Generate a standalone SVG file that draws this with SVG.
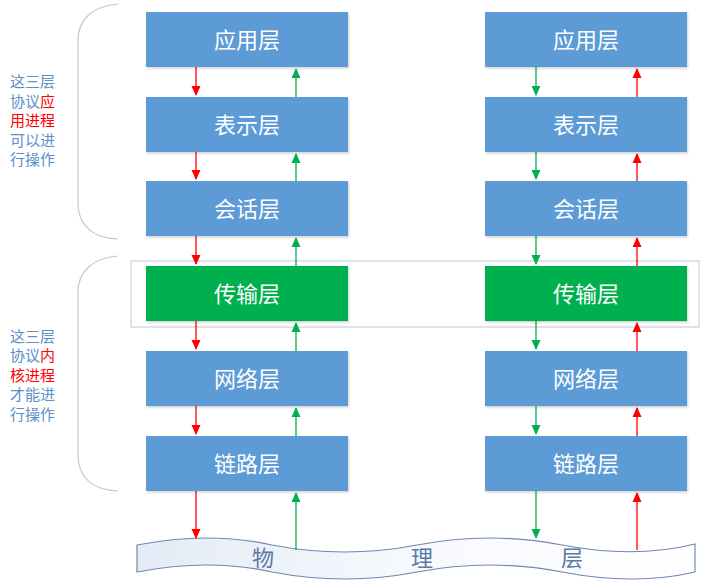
<svg xmlns="http://www.w3.org/2000/svg" width="709" height="585" viewBox="0 0 709 585">
<style>
text{font-family:"Noto Sans CJK SC","Liberation Sans",sans-serif}
.box{fill:#5b9bd5}
.gbox{fill:#00b050}
.bt{fill:#ffffff;font-size:22px;text-anchor:middle}
.side{font-size:15px;fill:#5b8fc8}
.side .r{fill:#ff0000}
.brace{fill:none;stroke:#c3c7ce;stroke-width:1.2}
.red{stroke:#ff0000;stroke-width:1.3;fill:none}
.grn{stroke:#00b050;stroke-width:1.3;fill:none}
.phy{font-size:22px;fill:#5a7aa6;text-anchor:middle}
</style>
<defs>
<marker id="ar" markerWidth="10" markerHeight="10" refX="9" refY="5" orient="auto" markerUnits="userSpaceOnUse"><path d="M0,0.5 L10,5 L0,9.5 Z" fill="#ff0000"/></marker>
<marker id="ag" markerWidth="10" markerHeight="10" refX="9" refY="5" orient="auto" markerUnits="userSpaceOnUse"><path d="M0,0.5 L10,5 L0,9.5 Z" fill="#00b050"/></marker>
<linearGradient id="wg" x1="0" y1="0" x2="1" y2="0"><stop offset="0" stop-color="#e4ebf6"/><stop offset="0.5" stop-color="#f7f9fd"/><stop offset="1" stop-color="#ffffff"/></linearGradient>
<filter id="sh" x="-5%" y="-10%" width="110%" height="130%"><feDropShadow dx="1" dy="1.5" stdDeviation="1" flood-color="#000" flood-opacity="0.18"/></filter>
</defs>

<g id="braces">
<path class="brace" d="M118,4 C92,6 78,20 78,40 L78,203 C78,225 92,238 118,239"/>
<path class="brace" d="M118,256 C92,258 78,272 78,292 L78,455 C78,477 92,490 118,491"/>
</g>

<g id="note-top">
<text class="side"><tspan x="10" y="87">这三层</tspan><tspan x="10" y="106.5">协议<tspan class="r">应</tspan></tspan><tspan x="10" y="126" class="r">用进程</tspan><tspan x="10" y="145.5">可以进</tspan><tspan x="10" y="165">行操作</tspan></text>
</g>
<g id="note-bottom">
<text class="side"><tspan x="10" y="341.5">这三层</tspan><tspan x="10" y="361">协议<tspan class="r">内</tspan></tspan><tspan x="10" y="380.5" class="r">核进程</tspan><tspan x="10" y="400">才能进</tspan><tspan x="10" y="419.5">行操作</tspan></text>
</g>

<g id="transport-highlight">
<rect x="131" y="261" width="568" height="66" fill="#ffffff" stroke="#c8cfdb" stroke-width="1.2"/>
</g>

<g id="physical">
<path d="M137,545 Q209,531 272,545 Q345,559 417,545 Q490,531 562,545 Q635,559 695,544 L695,572 Q635,586 562,572 Q490,558 417,572 Q345,586 272,572 Q209,558 137,572 Z" fill="url(#wg)" stroke="#7089b0" stroke-width="1.2"/>
<text class="phy"><tspan x="263" y="566">物</tspan><tspan x="422" y="566">理</tspan><tspan x="572" y="566">层</tspan></text>
</g>

<g id="connectors">
<!-- left column: red down at 196, green up at 296 -->
<line class="red" x1="196" y1="67" x2="196" y2="95" marker-end="url(#ar)"/>
<line class="red" x1="196" y1="152" x2="196" y2="179" marker-end="url(#ar)"/>
<line class="red" x1="196" y1="236" x2="196" y2="264" marker-end="url(#ar)"/>
<line class="red" x1="196" y1="321" x2="196" y2="349" marker-end="url(#ar)"/>
<line class="red" x1="196" y1="406" x2="196" y2="434" marker-end="url(#ar)"/>
<line class="red" x1="196" y1="491" x2="196" y2="538" marker-end="url(#ar)"/>
<line class="grn" x1="296" y1="97" x2="296" y2="69" marker-end="url(#ag)"/>
<line class="grn" x1="296" y1="181" x2="296" y2="154" marker-end="url(#ag)"/>
<line class="grn" x1="296" y1="266" x2="296" y2="238" marker-end="url(#ag)"/>
<line class="grn" x1="296" y1="351" x2="296" y2="323" marker-end="url(#ag)"/>
<line class="grn" x1="296" y1="436" x2="296" y2="408" marker-end="url(#ag)"/>
<line class="grn" x1="296" y1="550" x2="296" y2="493" marker-end="url(#ag)"/>
<!-- right column: green down at 536, red up at 637 -->
<line class="grn" x1="536" y1="67" x2="536" y2="95" marker-end="url(#ag)"/>
<line class="grn" x1="536" y1="152" x2="536" y2="179" marker-end="url(#ag)"/>
<line class="grn" x1="536" y1="236" x2="536" y2="264" marker-end="url(#ag)"/>
<line class="grn" x1="536" y1="321" x2="536" y2="349" marker-end="url(#ag)"/>
<line class="grn" x1="536" y1="406" x2="536" y2="434" marker-end="url(#ag)"/>
<line class="grn" x1="536" y1="491" x2="536" y2="538" marker-end="url(#ag)"/>
<line class="red" x1="637" y1="97" x2="637" y2="69" marker-end="url(#ar)"/>
<line class="red" x1="637" y1="181" x2="637" y2="154" marker-end="url(#ar)"/>
<line class="red" x1="637" y1="266" x2="637" y2="238" marker-end="url(#ar)"/>
<line class="red" x1="637" y1="351" x2="637" y2="323" marker-end="url(#ar)"/>
<line class="red" x1="637" y1="436" x2="637" y2="408" marker-end="url(#ar)"/>
<line class="red" x1="637" y1="550" x2="637" y2="493" marker-end="url(#ar)"/>
</g>

<g id="L-app"><rect class="box" filter="url(#sh)" x="146" y="12" width="202" height="55"/><text class="bt" x="247" y="48">应用层</text></g>
<g id="L-pres"><rect class="box" filter="url(#sh)" x="146" y="97" width="202" height="55"/><text class="bt" x="247" y="133">表示层</text></g>
<g id="L-sess"><rect class="box" filter="url(#sh)" x="146" y="181" width="202" height="55"/><text class="bt" x="247" y="217">会话层</text></g>
<g id="L-trans"><rect class="gbox" filter="url(#sh)" x="146" y="266" width="202" height="55"/><text class="bt" x="247" y="302">传输层</text></g>
<g id="L-net"><rect class="box" filter="url(#sh)" x="146" y="351" width="202" height="55"/><text class="bt" x="247" y="387">网络层</text></g>
<g id="L-link"><rect class="box" filter="url(#sh)" x="146" y="436" width="202" height="55"/><text class="bt" x="247" y="472">链路层</text></g>

<g id="R-app"><rect class="box" filter="url(#sh)" x="485" y="12" width="202" height="55"/><text class="bt" x="586" y="48">应用层</text></g>
<g id="R-pres"><rect class="box" filter="url(#sh)" x="485" y="97" width="202" height="55"/><text class="bt" x="586" y="133">表示层</text></g>
<g id="R-sess"><rect class="box" filter="url(#sh)" x="485" y="181" width="202" height="55"/><text class="bt" x="586" y="217">会话层</text></g>
<g id="R-trans"><rect class="gbox" filter="url(#sh)" x="485" y="266" width="202" height="55"/><text class="bt" x="586" y="302">传输层</text></g>
<g id="R-net"><rect class="box" filter="url(#sh)" x="485" y="351" width="202" height="55"/><text class="bt" x="586" y="387">网络层</text></g>
<g id="R-link"><rect class="box" filter="url(#sh)" x="485" y="436" width="202" height="55"/><text class="bt" x="586" y="472">链路层</text></g>
</svg>
